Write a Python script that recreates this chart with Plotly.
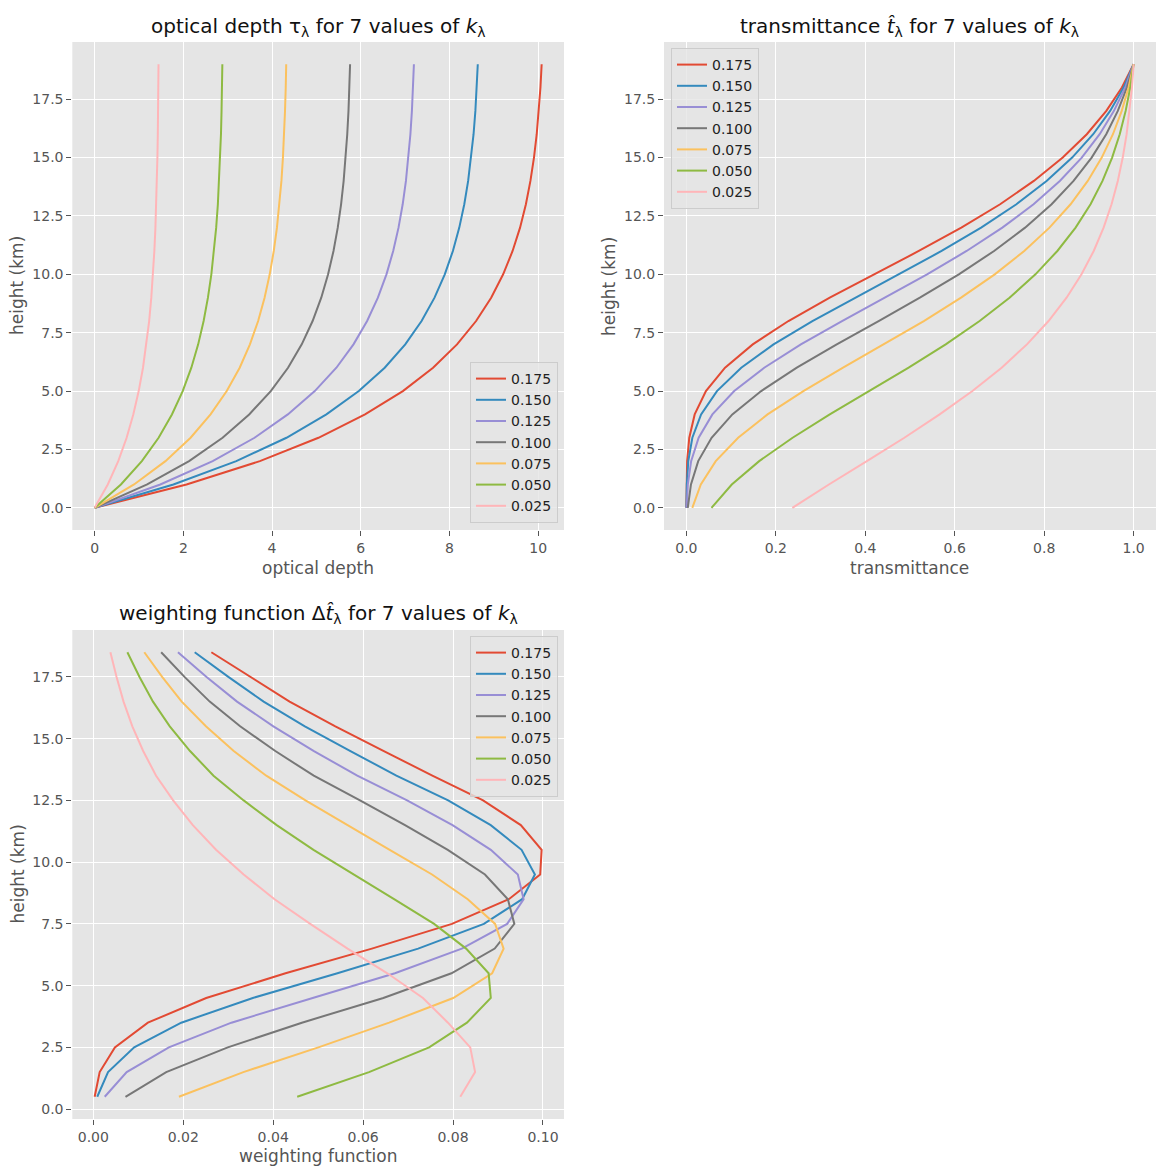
import plotly.graph_objects as go

# ---------------- data ----------------
k_labels = ["0.175", "0.150", "0.125", "0.100", "0.075", "0.050", "0.025"]
line_colors = ["#E24A33", "#348ABD", "#988ED5", "#777777", "#FBC15E", "#8EBA42", "#FFB5B8"]

heights = [0, 1, 2, 3, 4, 5, 6, 7, 8, 9, 10, 11, 12, 13, 14, 15, 16, 17, 18, 19]
mid_heights = [0.5, 1.5, 2.5, 3.5, 4.5, 5.5, 6.5, 7.5, 8.5, 9.5, 10.5, 11.5, 12.5,
               13.5, 14.5, 15.5, 16.5, 17.5, 18.5]

# optical depth tau for each k
tau_0175 = [0, 2.071, 3.725, 5.046, 6.096, 6.949, 7.630, 8.170, 8.600, 8.940, 9.210, 9.423, 9.591, 9.723, 9.825, 9.905, 9.967, 10.015, 10.051, 10.078]
tau_0150 = [0, 1.775, 3.193, 4.325, 5.225, 5.956, 6.540, 7.003, 7.371, 7.663, 7.894, 8.077, 8.221, 8.334, 8.421, 8.490, 8.543, 8.584, 8.615, 8.638]
tau_0125 = [0, 1.480, 2.661, 3.605, 4.355, 4.963, 5.450, 5.836, 6.143, 6.386, 6.579, 6.731, 6.851, 6.945, 7.018, 7.075, 7.119, 7.153, 7.179, 7.198]
tau_0100 = [0, 1.184, 2.129, 2.884, 3.484, 3.971, 4.360, 4.669, 4.914, 5.109, 5.263, 5.385, 5.481, 5.556, 5.614, 5.660, 5.695, 5.723, 5.743, 5.759]
tau_0075 = [0, 0.888, 1.596, 2.163, 2.613, 2.978, 3.270, 3.501, 3.686, 3.831, 3.947, 4.038, 4.110, 4.167, 4.211, 4.245, 4.272, 4.292, 4.308, 4.319]
tau_0050 = [0, 0.592, 1.064, 1.442, 1.742, 1.985, 2.180, 2.334, 2.457, 2.554, 2.631, 2.692, 2.740, 2.778, 2.807, 2.830, 2.848, 2.861, 2.872, 2.879]
tau_0025 = [0, 0.296, 0.532, 0.721, 0.871, 0.993, 1.090, 1.167, 1.229, 1.277, 1.316, 1.346, 1.370, 1.389, 1.404, 1.415, 1.424, 1.431, 1.436, 1.440]

# transmittance for each k
trans_0175 = [0.000042, 0.000333, 0.001742, 0.006531, 0.018662, 0.043762, 0.086504, 0.148450, 0.228209, 0.320618, 0.420001, 0.519705, 0.614774, 0.701454, 0.776856, 0.841474, 0.895297, 0.938943, 0.973751, 1.0]
trans_0150 = [0.000177, 0.001046, 0.004318, 0.013400, 0.032958, 0.068426, 0.122714, 0.194953, 0.281817, 0.377192, 0.475400, 0.570638, 0.659021, 0.737935, 0.805332, 0.862515, 0.909555, 0.947432, 0.977458, 1.0]
trans_0125 = [0.000748, 0.003284, 0.010700, 0.027495, 0.058207, 0.106992, 0.174069, 0.256018, 0.348054, 0.443747, 0.538160, 0.626567, 0.706452, 0.776235, 0.834936, 0.884000, 0.924040, 0.955997, 0.981179, 1.0]
trans_0100 = [0.003156, 0.010306, 0.026516, 0.056416, 0.102797, 0.167294, 0.246942, 0.336216, 0.429851, 0.522046, 0.609145, 0.687977, 0.757297, 0.816605, 0.865631, 0.906104, 0.938755, 0.964640, 0.984915, 1.0]
trans_0075 = [0.013313, 0.032346, 0.065710, 0.115758, 0.181545, 0.261584, 0.350287, 0.441535, 0.530891, 0.614160, 0.689492, 0.755406, 0.811801, 0.858988, 0.897447, 0.928672, 0.953706, 0.973361, 0.988665, 1.0]
trans_0050 = [0.056174, 0.101520, 0.162838, 0.237521, 0.320618, 0.409016, 0.496933, 0.579842, 0.655636, 0.722527, 0.780477, 0.829444, 0.870228, 0.903663, 0.930391, 0.951895, 0.968894, 0.982161, 0.992429, 1.0]
trans_0025 = [0.237010, 0.318623, 0.403531, 0.487361, 0.566233, 0.639545, 0.704935, 0.761473, 0.809714, 0.850016, 0.883446, 0.910738, 0.932860, 0.950611, 0.964568, 0.975651, 0.984324, 0.991040, 0.996207, 1.0]

# weighting function for each k (at layer mid-heights)
weight_0175 = [0.000291, 0.001409, 0.004788, 0.012131, 0.025100, 0.042742, 0.061946, 0.079759, 0.092409, 0.099383, 0.099704, 0.095069, 0.086680, 0.075402, 0.064618, 0.053823, 0.043646, 0.034808, 0.026249]
weight_0150 = [0.000869, 0.003272, 0.009082, 0.019558, 0.035468, 0.054288, 0.072239, 0.086864, 0.095375, 0.098208, 0.095238, 0.088383, 0.078914, 0.067397, 0.057183, 0.047040, 0.037877, 0.030026, 0.022542]
weight_0125 = [0.002536, 0.007416, 0.016795, 0.030712, 0.048785, 0.067077, 0.081949, 0.092036, 0.095693, 0.094413, 0.088407, 0.079885, 0.069783, 0.058701, 0.049064, 0.040040, 0.031957, 0.025182, 0.018821]
weight_0100 = [0.007150, 0.016210, 0.029900, 0.046381, 0.064497, 0.079648, 0.089274, 0.093635, 0.092195, 0.087099, 0.078832, 0.069320, 0.059308, 0.049026, 0.040473, 0.032651, 0.025885, 0.020275, 0.015085]
weight_0075 = [0.019033, 0.033364, 0.050048, 0.065787, 0.080039, 0.088703, 0.091248, 0.089356, 0.083269, 0.075332, 0.065914, 0.056395, 0.047187, 0.038459, 0.031225, 0.025034, 0.019655, 0.015304, 0.011335]
weight_0050 = [0.045346, 0.061318, 0.074683, 0.083097, 0.088398, 0.087917, 0.082909, 0.075794, 0.066891, 0.057950, 0.048967, 0.040784, 0.033435, 0.026728, 0.021504, 0.016999, 0.013267, 0.010268, 0.007571]
weight_0025 = [0.081613, 0.084908, 0.083830, 0.078872, 0.073312, 0.065390, 0.056538, 0.048241, 0.040302, 0.033430, 0.027292, 0.022122, 0.017751, 0.013957, 0.011083, 0.008673, 0.006716, 0.005167, 0.003793]

tau_series = [tau_0175, tau_0150, tau_0125, tau_0100, tau_0075, tau_0050, tau_0025]
trans_series = [trans_0175, trans_0150, trans_0125, trans_0100, trans_0075, trans_0050, trans_0025]
weight_series = [weight_0175, weight_0150, weight_0125, weight_0100, weight_0075, weight_0050, weight_0025]

x_ticks_tau = [0, 2, 4, 6, 8, 10]
x_ticks_trans = [0.0, 0.2, 0.4, 0.6, 0.8, 1.0]
x_ticks_weight = [0.00, 0.02, 0.04, 0.06, 0.08, 0.10]
y_ticks = [0.0, 2.5, 5.0, 7.5, 10.0, 12.5, 15.0, 17.5]

# ---------------- figure ----------------
W, H = 1166, 1173
FONT = "DejaVu Sans"
TXT = "#555555"

fig = go.Figure()

panels = [
    (tau_series, heights, "x", "y", "legend"),
    (trans_series, heights, "x2", "y2", "legend2"),
    (weight_series, mid_heights, "x3", "y3", "legend3"),
]
for pi, (series, yvals, xa, ya, lg) in enumerate(panels):
    for lab, col, xs in zip(k_labels, line_colors, series):
        fig.add_trace(go.Scatter(
            x=xs, y=yvals, mode="lines", name=lab,
            line=dict(color=col, width=2),
            xaxis=xa, yaxis=ya, legend=lg,
            legendgroup=f"p{pi}_{lab}",
        ))


def px_x(p):
    return p / W


def px_y(p):
    return 1 - p / H


axis_common = dict(
    showgrid=True, gridcolor="white", gridwidth=1.2,
    zeroline=False, showline=False,
    ticks="outside", ticklen=5, tickwidth=1, tickcolor=TXT,
    tickfont=dict(family=FONT, size=14, color=TXT),
)

top_y = [px_y(530), px_y(42)]
bot_y = [px_y(1119), px_y(630)]
left_x = [px_x(72.3), px_x(564)]
right_x = [px_x(664), px_x(1156)]

fig.update_layout(
    width=W, height=H,
    margin=dict(l=0, r=0, t=0, b=0),
    paper_bgcolor="white",
    plot_bgcolor="#E5E5E5",
    font=dict(family=FONT, color=TXT),
    xaxis=dict(domain=left_x, anchor="y", range=[-0.504, 10.582],
               tickvals=x_ticks_tau, ticktext=[str(v) for v in x_ticks_tau], **axis_common),
    yaxis=dict(domain=top_y, anchor="x", range=[-0.95, 19.95],
               tickvals=y_ticks, ticktext=[f"{v:.1f}" for v in y_ticks], **axis_common),
    xaxis2=dict(domain=right_x, anchor="y2", range=[-0.04996, 1.04998],
                tickvals=x_ticks_trans, ticktext=[f"{v:.1f}" for v in x_ticks_trans], **axis_common),
    yaxis2=dict(domain=top_y, anchor="x2", range=[-0.95, 19.95],
                tickvals=y_ticks, ticktext=[f"{v:.1f}" for v in y_ticks], **axis_common),
    xaxis3=dict(domain=left_x, anchor="y3", range=[-0.00468, 0.10468],
                tickvals=x_ticks_weight, ticktext=[f"{v:.2f}" for v in x_ticks_weight], **axis_common),
    yaxis3=dict(domain=bot_y, anchor="x3", range=[-0.4, 19.4],
                tickvals=y_ticks, ticktext=[f"{v:.1f}" for v in y_ticks], **axis_common),
)

legend_common = dict(
    bgcolor="rgba(229,229,229,0.8)", bordercolor="#CCCCCC", borderwidth=1,
    font=dict(family=FONT, size=14, color="#222222"),
    itemwidth=30, tracegroupgap=2, traceorder="normal",
)
fig.update_layout(
    legend=dict(x=px_x(558), y=px_y(523), xanchor="right", yanchor="bottom", **legend_common),
    legend2=dict(x=px_x(671), y=px_y(48), xanchor="left", yanchor="top", **legend_common),
    legend3=dict(x=px_x(558), y=px_y(636), xanchor="right", yanchor="top", **legend_common),
)

title_font = dict(family=FONT, size=20, color="#111111")
label_font = dict(family=FONT, size=17, color=TXT)
annots = [
    dict(text="optical depth τ<sub>λ</sub> for 7 values of <i>k</i><sub>λ</sub>",
         x=px_x(318), y=px_y(27), font=title_font),
    dict(text="transmittance <i>t̂</i><sub>λ</sub> for 7 values of <i>k</i><sub>λ</sub>",
         x=px_x(910), y=px_y(27), font=title_font),
    dict(text="weighting function Δ<i>t̂</i><sub>λ</sub> for 7 values of <i>k</i><sub>λ</sub>",
         x=px_x(318), y=px_y(614), font=title_font),
    dict(text="optical depth", x=px_x(318), y=px_y(568), font=label_font),
    dict(text="transmittance", x=px_x(910), y=px_y(568), font=label_font),
    dict(text="weighting function", x=px_x(318), y=px_y(1156), font=label_font),
    dict(text="height (km)", x=px_x(17), y=px_y(286), font=label_font, textangle=-90),
    dict(text="height (km)", x=px_x(609), y=px_y(286), font=label_font, textangle=-90),
    dict(text="height (km)", x=px_x(17), y=px_y(874.5), font=label_font, textangle=-90),
]
for a in annots:
    fig.add_annotation(xref="paper", yref="paper", xanchor="center", yanchor="middle",
                       showarrow=False, **a)

fig.write_html("out.html")
